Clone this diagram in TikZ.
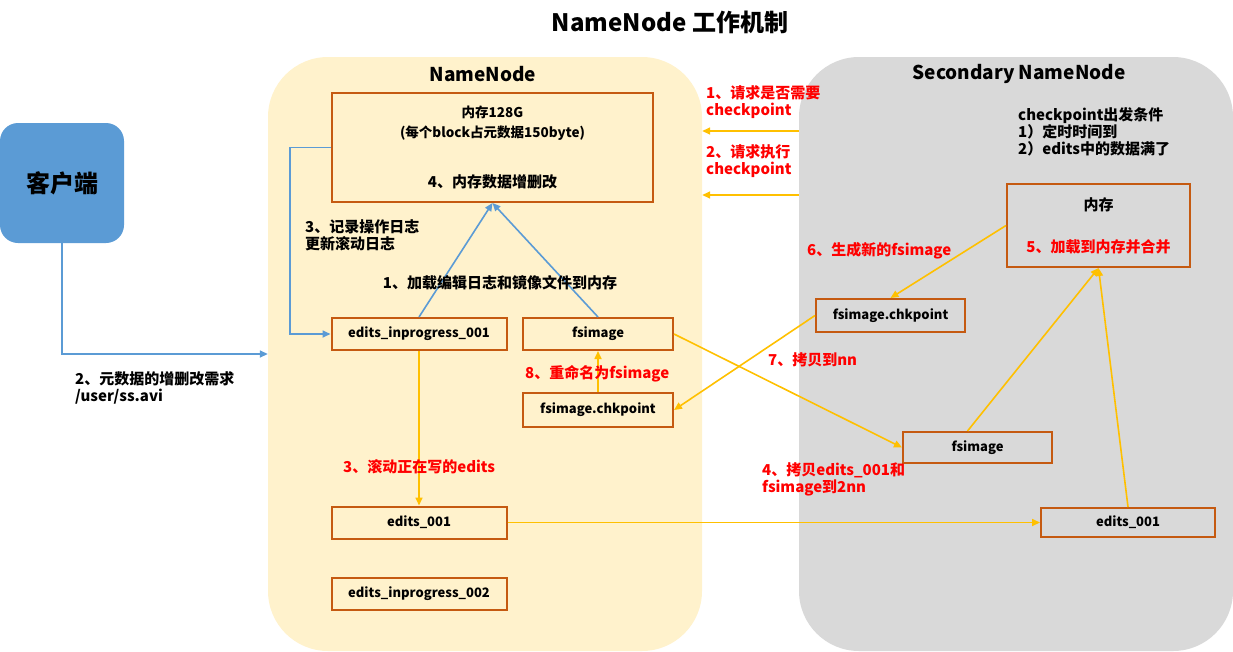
\documentclass[tikz,border=0pt]{standalone}
\usepackage{fontspec}
\setmainfont{Noto Sans CJK SC}
\usepackage{xcolor}
\usetikzlibrary{positioning, arrows.meta, calc}

\definecolor{nnfill}{HTML}{FFF2CC}
\definecolor{snnfill}{HTML}{D9D9D9}
\definecolor{clientblue}{HTML}{5B9BD5}
\definecolor{boxorange}{HTML}{C55A11}
\definecolor{flowyellow}{HTML}{FFC000}

\begin{document}
\begin{tikzpicture}[
    x=1pt, y=-1pt,
    font=\bfseries\fontsize{13}{17}\selectfont,
    region/.style={draw=none, rounded corners=60pt, inner sep=0pt},
    filebox/.style={draw=boxorange, line width=2pt, inner sep=0pt, minimum height=32pt},
    note/.style={anchor=west, align=left, inner sep=0pt, font=\bfseries\fontsize{15}{17}\selectfont},
    rednote/.style={note, text=red},
    bluearrow/.style={draw=clientblue, line width=1.6pt, -{Triangle[length=8pt, width=7pt]}},
    flow/.style={draw=flowyellow, line width=1.6pt, -{Triangle[length=8pt, width=7pt]}}
]
\useasboundingbox (0,0) rectangle (1233,651);

% title
\node[font=\bfseries\fontsize{24}{28}\selectfont] (title) at (670,22) {NameNode 工作机制};

% the two regions
\node[region, fill=nnfill, minimum width=434pt, minimum height=594pt] (nn) at (485,354) {};
\node[region, fill=snnfill, minimum width=434pt, minimum height=594pt] (snn) at (1016,354) {};
\node[font=\bfseries\fontsize{19}{22}\selectfont] (nntitle) at (483,74) {NameNode};
\node[font=\bfseries\fontsize{19}{22}\selectfont] (snntitle) at (1019,74) {Secondary NameNode};

% client
\node[fill=clientblue, rounded corners=18pt, minimum width=124pt, minimum height=120pt,
      font=\bfseries\fontsize{24}{28}\selectfont] (client) at (62,183) {客户端};

% NameNode side
\node[filebox, minimum width=321pt, minimum height=109pt, align=center,
      font=\bfseries\fontsize{13.5}{20}\selectfont] (mem) at (492.5,147.5)
      {内存128G\\(每个block占元数据150byte)\\[30pt]{\fontsize{15}{20}\selectfont 4、内存数据增删改}};
\node[filebox, minimum width=175pt] (einp1) at (419,334) {edits\_inprogress\_001};
\node[filebox, minimum width=150pt] (fsnn) at (598,334) {fsimage};
\node[filebox, minimum width=150pt, minimum height=34pt] (ckptnn) at (598,410) {fsimage.chkpoint};
\node[filebox, minimum width=175pt] (ed1nn) at (419,522.5) {edits\_001};
\node[filebox, minimum width=175pt] (einp2) at (419,593.5) {edits\_inprogress\_002};

% Secondary NameNode side
\node[filebox, minimum width=183pt, minimum height=83pt, align=center,
      font=\bfseries\fontsize{15}{20}\selectfont] (memsnn) at (1098.5,225.5)
      {内存\\[22pt]\textcolor{red}{5、加载到内存并合并}};
\node[filebox, minimum width=149pt, minimum height=33pt] (ckptsnn) at (890.5,315.5) {fsimage.chkpoint};
\node[filebox, minimum width=149pt, minimum height=31pt] (fssnn) at (977.5,447.5) {fsimage};
\node[filebox, minimum width=174pt, minimum height=29pt] (ed1snn) at (1128,522.5) {edits\_001};
\node[note] (cond) at (1018,132)
      {checkpoint出发条件\\1）定时时间到\\2）edits中的数据满了};

% client and log arrows
\draw[bluearrow] (client.south) |- (nn.west);
\draw[bluearrow] (mem.west) -- ++(-41,0) |- (einp1.west);
\draw[bluearrow] (einp1.north) -- (mem.south);
\draw[bluearrow] (fsnn.north) -- (mem.south);

% checkpoint flow
\draw[flow] (snn.west |- 0,131) -- (nn.east |- 0,131);
\draw[flow] (snn.west |- 0,195) -- (nn.east |- 0,195);
\draw[flow] (einp1.south) -- (ed1nn.north);
\draw[flow] (fsnn.east) -- (fssnn.west);
\draw[flow] (ed1nn.east) -- (ed1snn.west);
\draw[flow] ($(fssnn.north)+(-10,0)$) -- (memsnn.south);
\draw[flow] (ed1snn.north) -- (memsnn.south);
\draw[flow] (memsnn.west) -- (ckptsnn.north);
\draw[flow] (ckptsnn.west) -- (ckptnn.east);
\draw[flow] (ckptnn.north) -- (fsnn.south);

% labels
\node[note] (lbclient) at (75,388) {2、元数据的增删改需求\\/user/ss.avi};
\node[note] (lblog) at (305,235.5) {3、记录操作日志\\更新滚动日志};
\node[note, anchor=center] (lbload) at (500,283) {1、加载编辑日志和镜像文件到内存};
\node[rednote] (lbask) at (706,102.5) {1、请求是否需要\\checkpoint};
\node[rednote] (lbrun) at (706,161.5) {2、请求执行\\checkpoint};
\node[rednote] (lbroll) at (343,467) {3、滚动正在写的edits};
\node[rednote] (lbrename) at (525,374) {8、重命名为fsimage};
\node[rednote] (lbnew) at (807,251) {6、生成新的fsimage};
\node[rednote] (lbback) at (768,360) {7、拷贝到nn};
\node[rednote] (lbcopy) at (762,479) {4、拷贝edits\_001和\\fsimage到2nn};

\end{tikzpicture}
\end{document}
